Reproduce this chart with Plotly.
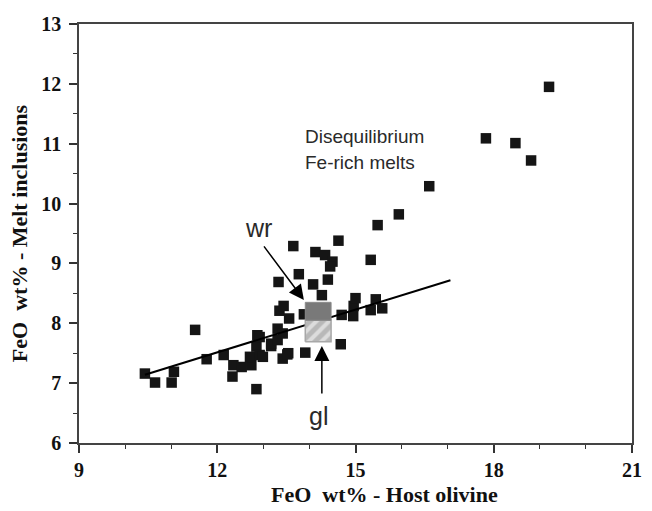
import plotly.graph_objects as go

# Data
host_olivine_feo = [10.43, 10.65, 11.01, 11.06, 11.52, 11.77, 12.14, 12.33, 12.35, 12.53,
                    12.74, 12.71, 12.85, 12.85, 12.87, 12.92, 12.92, 12.99, 13.17, 13.17,
                    13.31, 13.31, 13.42, 13.42, 13.54, 13.52, 13.35, 13.44, 13.56, 13.33,
                    13.65, 13.77, 13.88, 13.91, 14.08, 14.13, 14.34, 14.50, 14.45, 14.40,
                    14.27, 14.63, 14.68, 14.70, 14.95, 14.96, 15.00, 15.33, 15.33, 15.44,
                    15.58, 15.48, 15.94, 16.60, 17.83, 18.47, 18.81, 19.20]
melt_inclusion_feo = [7.16, 7.01, 7.01, 7.19, 7.89, 7.40, 7.47, 7.11, 7.30, 7.27,
                      7.30, 7.44, 6.90, 7.61, 7.80, 7.47, 7.77, 7.44, 7.62, 7.66,
                      7.72, 7.91, 7.83, 7.41, 7.50, 7.48, 8.21, 8.29, 8.08, 8.69,
                      9.29, 8.82, 8.15, 7.51, 8.65, 9.19, 9.14, 9.03, 8.95, 8.73,
                      8.47, 9.38, 7.65, 8.14, 8.12, 8.29, 8.42, 9.06, 8.22, 8.40,
                      8.25, 9.64, 9.82, 10.29, 11.09, 11.01, 10.72, 11.95]

trend_x = [10.43, 17.06]
trend_y = [7.14, 8.72]

box_x = [13.91, 14.47]
wr_y = [8.05, 8.35]
gl_y = [7.69, 8.05]

x_ticks = [9, 12, 15, 18, 21]
y_ticks = [6, 7, 8, 9, 10, 11, 12, 13]

fig = go.Figure()

fig.add_trace(go.Scatter(
    x=host_olivine_feo, y=melt_inclusion_feo, mode="markers",
    marker=dict(symbol="square", size=10.5, color="#151515", line=dict(width=0)),
    showlegend=False, hoverinfo="x+y"))

fig.add_trace(go.Scatter(
    x=trend_x, y=trend_y, mode="lines",
    line=dict(color="black", width=2), showlegend=False))

# gl box (hatched)
fig.add_trace(go.Scatter(
    x=[box_x[0], box_x[1], box_x[1], box_x[0], box_x[0]],
    y=[gl_y[0], gl_y[0], gl_y[1], gl_y[1], gl_y[0]],
    mode="lines", fill="toself", fillcolor="#b8b8b8",
    fillpattern=dict(shape="/", bgcolor="#b8b8b8", fgcolor="white", size=9, solidity=0.45),
    line=dict(color="#a8a8a8", width=1.5), showlegend=False))

# wr box (solid gray)
fig.add_trace(go.Scatter(
    x=[box_x[0], box_x[1], box_x[1], box_x[0], box_x[0]],
    y=[wr_y[0], wr_y[0], wr_y[1], wr_y[1], wr_y[0]],
    mode="lines", fill="toself", fillcolor="#797979",
    line=dict(color="#8a8a8a", width=1), showlegend=False))

sans = "Liberation Sans, Arial, sans-serif"
serif = "Liberation Serif, Times New Roman, serif"

annotations = [
    dict(x=13.85, y=11.12, xref="x", yref="y", text="Disequilibrium", showarrow=False,
         xanchor="left", yanchor="middle", font=dict(family=sans, size=19, color="#2a2a2a")),
    dict(x=13.85, y=10.69, xref="x", yref="y", text="Fe-rich melts", showarrow=False,
         xanchor="left", yanchor="middle", font=dict(family=sans, size=19, color="#2a2a2a")),
    dict(x=12.89, y=9.6, xref="x", yref="y", text="wr", showarrow=False,
         xanchor="center", yanchor="middle", font=dict(family=sans, size=25, color="#2a2a2a")),
    dict(x=14.2, y=6.45, xref="x", yref="y", text="gl", showarrow=False,
         xanchor="center", yanchor="middle", font=dict(family=sans, size=25, color="#2a2a2a")),
    dict(x=13.88, y=8.39, ax=12.99, ay=9.31, xref="x", yref="y", axref="x", ayref="y",
         text="", showarrow=True, arrowhead=2, arrowsize=2, arrowwidth=1.5, arrowcolor="black"),
    dict(x=14.27, y=7.62, ax=14.27, ay=6.8, xref="x", yref="y", axref="x", ayref="y",
         text="", showarrow=True, arrowhead=2, arrowsize=2, arrowwidth=1.5, arrowcolor="black"),
    dict(x=0.552, y=-0.1575, xref="paper", yref="paper", text="FeO  wt% - Host olivine",
         showarrow=False, xanchor="center", yanchor="bottom",
         font=dict(family=serif, size=22, color="#111", weight="bold")),
]

tickfont = dict(family=serif, size=20, color="#111", weight="bold")
titlefont = dict(family=serif, size=22, color="#111", weight="bold")

fig.update_layout(
    width=652, height=511,
    margin=dict(l=79, r=10, t=24, b=68),
    paper_bgcolor="white", plot_bgcolor="white",
    annotations=annotations,
    xaxis=dict(range=[9, 21], tickvals=x_ticks, ticks="outside", ticklen=8, tickwidth=1.5,
               tickcolor="#333", showline=True, linecolor="#444", linewidth=1.5, mirror=True,
               showgrid=False, zeroline=False,
               minor=dict(dtick=1, ticks="outside", ticklen=4, tickwidth=1.3, tickcolor="#333", showgrid=False),
               tickfont=tickfont),
    yaxis=dict(range=[6, 13], tickvals=y_ticks, ticks="outside", ticklen=8, tickwidth=1.5,
               tickcolor="#333", showline=True, linecolor="#444", linewidth=1.5, mirror=True,
               showgrid=False, zeroline=False, ticklabelstandoff=4,
               minor=dict(dtick=0.5, ticks="outside", ticklen=4, tickwidth=1.3, tickcolor="#333", showgrid=False),
               tickfont=tickfont,
               title=dict(text="FeO  wt% - Melt inclusions", standoff=8, font=titlefont)),
)

fig.write_html("out.html")
